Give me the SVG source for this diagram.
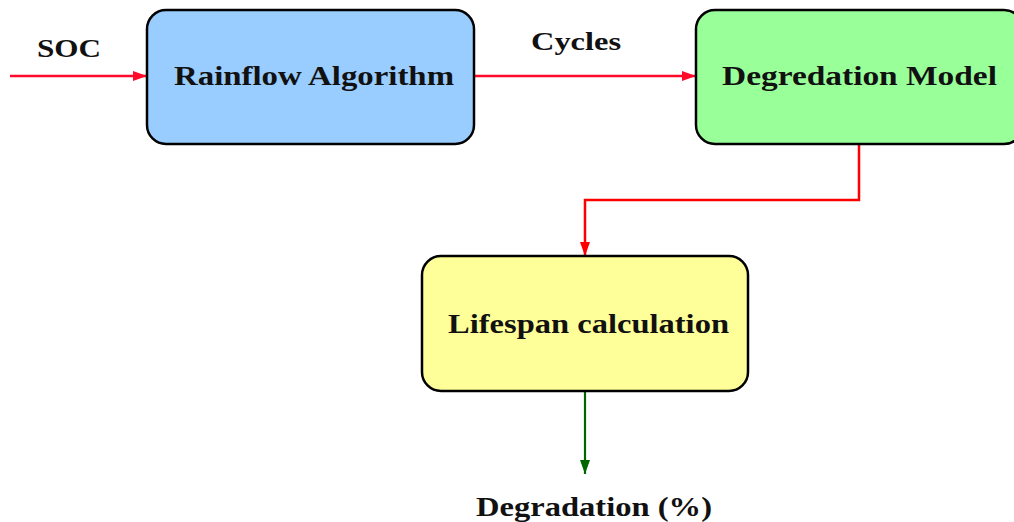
<svg xmlns="http://www.w3.org/2000/svg" width="1014" height="522" viewBox="0 0 1014 522">
<style>
.box{stroke:#000;stroke-width:2.5}
.t{font-family:"Liberation Serif","Times New Roman",serif;font-weight:bold;fill:#111;text-anchor:middle}
.red{fill:none;stroke:#ff0a2a;stroke-width:2.5}
.red2{fill:none;stroke:#ff0000;stroke-width:2.5}
.grn{fill:none;stroke:#006600;stroke-width:2.2}
</style>
<defs>
<marker id="ar" markerWidth="14" markerHeight="10" refX="14" refY="5" orient="auto" markerUnits="userSpaceOnUse"><path d="M0,0 L14,5 L0,10 Z" fill="#ff0a2a"/></marker>
<marker id="ar2" markerWidth="14" markerHeight="10" refX="14" refY="5" orient="auto" markerUnits="userSpaceOnUse"><path d="M0,0 L14,5 L0,10 Z" fill="#ff0000"/></marker>
<marker id="ag" markerWidth="14" markerHeight="10" refX="14" refY="5" orient="auto" markerUnits="userSpaceOnUse"><path d="M0,0 L14,5 L0,10 Z" fill="#006600"/></marker>
</defs>
<rect width="1014" height="522" fill="#fff"/>
<g id="connectors">
<path class="red" d="M10,76 H147" marker-end="url(#ar)"/>
<path class="red" d="M474,76 H696" marker-end="url(#ar)"/>
<path class="red2" d="M859,144 V200 H585 V256" marker-end="url(#ar2)"/>
<path class="grn" d="M585,391 V474" marker-end="url(#ag)"/>
</g>
<g id="label-soc"><text class="t" x="69" y="57" font-size="26" textLength="64" lengthAdjust="spacingAndGlyphs">SOC</text></g>
<g id="label-cycles"><text class="t" x="576" y="50" font-size="26" textLength="90" lengthAdjust="spacingAndGlyphs">Cycles</text></g>
<g id="rainflow">
<rect class="box" x="147" y="10" width="327" height="134" rx="19" fill="#99ccff"/>
<text class="t" x="314" y="85" font-size="27" textLength="280" lengthAdjust="spacingAndGlyphs">Rainflow Algorithm</text>
</g>
<g id="degradation-model">
<rect class="box" x="696" y="10" width="327" height="134" rx="19" fill="#99ff99"/>
<text class="t" x="859.5" y="85" font-size="27" textLength="275" lengthAdjust="spacingAndGlyphs">Degredation Model</text>
</g>
<g id="lifespan">
<rect class="box" x="422" y="256" width="326" height="135" rx="19" fill="#ffff99"/>
<text class="t" x="588.5" y="333" font-size="27" textLength="281" lengthAdjust="spacingAndGlyphs">Lifespan calculation</text>
</g>
<g id="output"><text class="t" x="594" y="516" font-size="27" textLength="236" lengthAdjust="spacingAndGlyphs">Degradation (%)</text></g>
</svg>
